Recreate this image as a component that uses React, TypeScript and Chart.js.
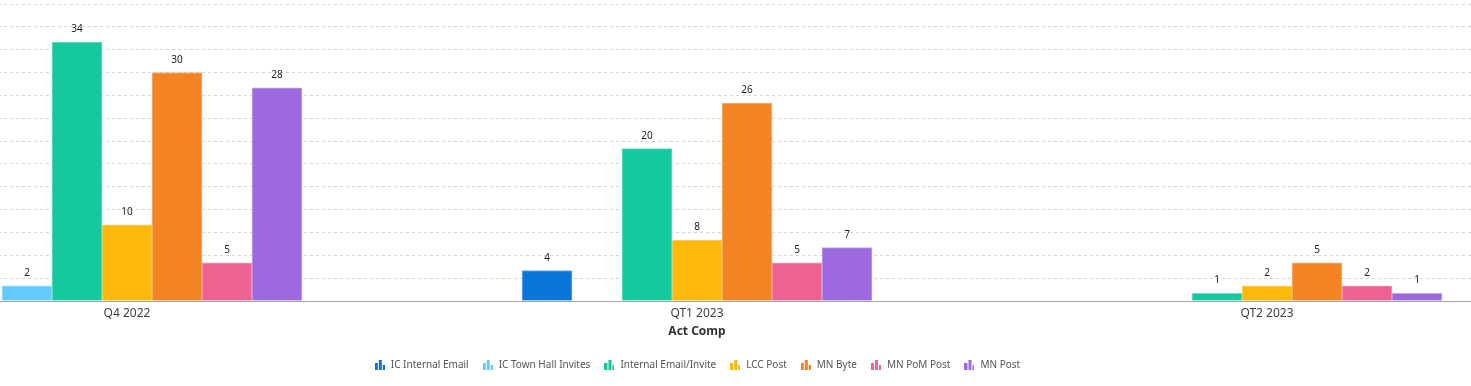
import { useEffect, useRef } from 'react';
import { Chart, registerables } from 'chart.js';

Chart.register(...registerables);

const categories = ['Q4 2022', 'QT1 2023', 'QT2 2023'];
const seriesNames = [
  'IC Internal Email',
  'IC Town Hall Invites',
  'Internal Email/Invite',
  'LCC Post',
  'MN Byte',
  'MN PoM Post',
  'MN Post',
];
const icInternalEmail = [null, 4, null];
const icTownHallInvites = [2, null, null];
const internalEmailInvite = [34, 20, 1];
const lccPost = [10, 8, 2];
const mnByte = [30, 26, 5];
const mnPomPost = [5, 5, 2];
const mnPost = [28, 7, 1];
const seriesColors = ['#0B76DA', '#63CBFC', '#14C99E', '#FDB90B', '#F48423', '#EE6292', '#9C6ADE'];
const axisTitle = 'Act Comp';
const yMax = 39;
const yStep = 3;

const FONT = '"Noto Sans", "Liberation Sans", sans-serif';

function lighten(hex: string, amt: number): string {
  const n = parseInt(hex.slice(1), 16);
  const r = (n >> 16) & 255, g = (n >> 8) & 255, b = n & 255;
  const m = (c: number) => Math.round(c + (255 - c) * amt);
  return `rgb(${m(r)},${m(g)},${m(b)})`;
}

function makeIcon(color: string): HTMLCanvasElement {
  const c = document.createElement('canvas');
  c.width = 10;
  c.height = 10;
  const ctx = c.getContext('2d')!;
  ctx.fillStyle = color;
  ctx.fillRect(0, 3, 3, 7);
  ctx.fillRect(4, 0, 3, 10);
  ctx.fillRect(8, 5, 2, 5);
  return c;
}

const valueLabels = {
  id: 'valueLabels',
  afterDatasetsDraw(chart: any) {
    const ctx = chart.ctx;
    ctx.save();
    ctx.font = `10px ${FONT}`;
    ctx.fillStyle = '#222';
    ctx.textAlign = 'center';
    ctx.textBaseline = 'alphabetic';
    chart.data.datasets.forEach((ds: any, di: number) => {
      const meta = chart.getDatasetMeta(di);
      meta.data.forEach((el: any, i: number) => {
        const v = ds.data[i];
        if (v === null || v === undefined) return;
        ctx.fillText(String(v), el.x, el.y - 10);
      });
    });
    ctx.restore();
  },
};

export default function App() {
  const ref = useRef<HTMLCanvasElement>(null);
  useEffect(() => {
    if (!ref.current) return;
    const allData = [icInternalEmail, icTownHallInvites, internalEmailInvite, lccPost, mnByte, mnPomPost, mnPost];
    const chart = new Chart(ref.current, {
      type: 'bar',
      data: {
        labels: categories,
        datasets: seriesNames.map((name, i) => ({
          label: name,
          data: allData[i],
          backgroundColor: seriesColors[i],
          borderColor: lighten(seriesColors[i], 0.4),
          borderWidth: 1,
          barThickness: 50,
          pointStyle: makeIcon(seriesColors[i]),
        })),
      },
      options: {
        responsive: false,
        animation: false,
        layout: { padding: { top: 4, bottom: 6, left: 0, right: 0 } },
        plugins: {
          legend: {
            position: 'bottom',
            labels: {
              usePointStyle: true,
              pointStyleWidth: 12,
              padding: 13,
              color: '#555',
              font: { family: FONT, size: 10 },
            },
          },
          tooltip: { enabled: false },
        },
        scales: {
          x: {
            offset: true,
            grid: { display: false, drawTicks: false },
            border: { display: true, color: '#a6a6a6', width: 1 },
            ticks: { color: '#404040', font: { family: FONT, size: 12 }, padding: 5 },
            title: {
              display: true,
              text: axisTitle,
              color: '#333',
              font: { family: FONT, size: 12, weight: 'bold' },
              padding: { top: 0, bottom: 8 },
            },
            afterFit(scale: any) {
              scale.height = 46;
            },
          },
          y: {
            display: true,
            min: 0,
            max: yMax,
            ticks: { display: false, stepSize: yStep },
            grid: { color: '#d6d6d6', drawTicks: false },
            border: { display: false, dash: [3, 3] },
          },
        },
      },
      plugins: [valueLabels],
    } as any);
    return () => chart.destroy();
  }, []);
  return (
    <div style={{ position: 'fixed', left: 0, top: 0, width: 1471, height: 386, overflow: 'hidden', background: '#fff' }}>
      <div style={{ position: 'absolute', left: -158, top: 0, width: 1710, height: 386 }}>
        <canvas ref={ref} width={1710} height={386} style={{ display: 'block' }} />
      </div>
    </div>
  );
}
